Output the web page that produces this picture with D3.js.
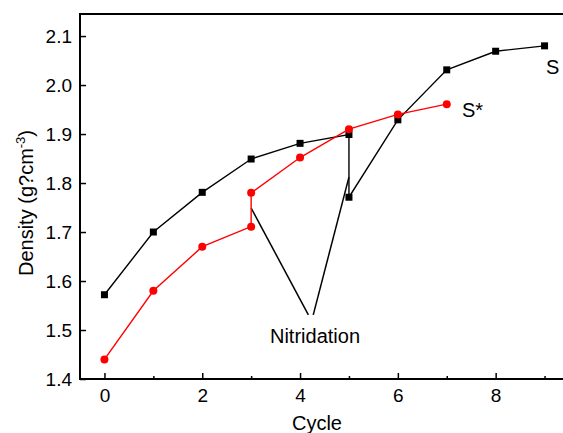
<!DOCTYPE html>
<html>
  <head>
    <meta charset="utf-8">
    <script src="https://d3js.org/d3.v7.min.js"></script>
    <style>
      body { margin: 0; background: #fff; }
      text { font-family: "Liberation Sans", Arial, sans-serif; }
    </style>
  </head>
<body>
  <script type="text/javascript">
    // cycle / density values
    var sCycle   = [0, 1, 2, 3, 4, 5, 5, 6, 7, 8, 9];
    var sDensity = [1.572, 1.70, 1.781, 1.849, 1.881, 1.899, 1.771, 1.929, 2.031, 2.069, 2.080];
    var sStarCycle   = [0, 1, 2, 3, 3, 4, 5, 6, 7];
    var sStarDensity = [1.440, 1.580, 1.670, 1.711, 1.780, 1.852, 1.910, 1.940, 1.961];
    var xTicks = [0, 2, 4, 6, 8];
    var xMinor = [1, 3, 5, 7, 9];
    var yTicks = [1.4, 1.5, 1.6, 1.7, 1.8, 1.9, 2.0, 2.1];
    // annotation: pointers from under the label up to the nitridation steps
    var nitFrom = [[4.17, 1.531], [4.27, 1.531]];
    var nitTo   = [[3, 1.749], [5, 1.812]];

    function draw() {
        "use strict";
        var width = 563, height = 433;
        var pLeft = 80, pTop = 14, pRight = 569, pBottom = 379;

        var svg = d3.select("body").append("svg")
            .attr("width", width)
            .attr("height", height);

        var x = d3.scaleLinear().domain([-0.5, 9.5]).range([pLeft, pRight]);
        var y = d3.scaleLinear().domain([1.4, 2.145]).range([pBottom, pTop]);

        // frame
        svg.append("rect")
            .attr("x", pLeft).attr("y", pTop)
            .attr("width", pRight - pLeft).attr("height", pBottom - pTop)
            .attr("fill", "none").attr("stroke", "#000").attr("stroke-width", 2);

        // x axis ticks (inward)
        var xAxis = svg.append("g").attr("transform", "translate(0," + pBottom + ")")
            .call(d3.axisBottom(x).tickValues(xTicks).tickSizeInner(-6).tickSizeOuter(0).tickPadding(10));
        xAxis.select(".domain").remove();
        xAxis.selectAll("line").attr("stroke-width", 1.5);
        xAxis.selectAll("text").style("font-size", "19px").attr("fill", "#000")
            .style("font-family", "'Liberation Sans', Arial, sans-serif");
        svg.append("g").attr("transform", "translate(0," + pBottom + ")")
            .call(d3.axisBottom(x).tickValues(xMinor).tickSizeInner(-3).tickSizeOuter(0).tickFormat(""))
            .call(function (g) { g.select(".domain").remove(); g.selectAll("line").attr("stroke-width", 1.5); });

        // y axis ticks (inward)
        var yAxis = svg.append("g").attr("transform", "translate(" + pLeft + ",0)")
            .call(d3.axisLeft(y).tickValues(yTicks).tickFormat(d3.format(".1f"))
                .tickSizeInner(-6).tickSizeOuter(0).tickPadding(8));
        yAxis.select(".domain").remove();
        yAxis.selectAll("line").attr("stroke-width", 1.5);
        yAxis.selectAll("text").style("font-size", "19px").attr("fill", "#000")
            .style("font-family", "'Liberation Sans', Arial, sans-serif");

        // axis titles
        svg.append("text")
            .attr("x", 317).attr("y", 430)
            .attr("text-anchor", "middle").style("font-size", "20px")
            .text("Cycle");

        var yTitle = svg.append("text")
            .attr("transform", "translate(33,203) rotate(-90)")
            .attr("text-anchor", "middle").style("font-size", "20px");
        yTitle.append("tspan").text("Density (g?cm");
        yTitle.append("tspan").attr("dy", -8).style("font-size", "13px").text("-3");
        yTitle.append("tspan").attr("dy", 8).text(")");

        // nitridation pointers
        nitFrom.forEach(function (p, i) {
            svg.append("line")
                .attr("x1", x(p[0])).attr("y1", y(p[1]))
                .attr("x2", x(nitTo[i][0])).attr("y2", y(nitTo[i][1]))
                .attr("stroke", "#000").attr("stroke-width", 1.5);
        });
        svg.append("text")
            .attr("x", 315).attr("y", 343)
            .attr("text-anchor", "middle").style("font-size", "20px")
            .text("Nitridation");

        var line = d3.line().x(function (d) { return x(d[0]); }).y(function (d) { return y(d[1]); });

        var sData = d3.zip(sCycle, sDensity);
        var starData = d3.zip(sStarCycle, sStarDensity);

        // S series (black squares)
        svg.append("path").datum(sData).attr("d", line)
            .attr("fill", "none").attr("stroke", "#000").attr("stroke-width", 1.4);
        svg.selectAll("rect.s").data(sData).enter().append("rect")
            .attr("class", "s")
            .attr("x", function (d) { return x(d[0]) - 3.5; })
            .attr("y", function (d) { return y(d[1]) - 3.5; })
            .attr("width", 7).attr("height", 7).attr("fill", "#000");

        // S* series (red circles)
        svg.append("path").datum(starData).attr("d", line)
            .attr("fill", "none").attr("stroke", "#ff0000").attr("stroke-width", 1.4);
        svg.selectAll("circle.s2").data(starData).enter().append("circle")
            .attr("class", "s2")
            .attr("cx", function (d) { return x(d[0]); })
            .attr("cy", function (d) { return y(d[1]); })
            .attr("r", 4).attr("fill", "#ff0000");

        // series labels
        svg.append("text").attr("x", 546).attr("y", 74).style("font-size", "20px").text("S");
        svg.append("text").attr("x", 462).attr("y", 117).style("font-size", "20px").text("S*");
    }

    draw();
  </script>
</body>
</html>
